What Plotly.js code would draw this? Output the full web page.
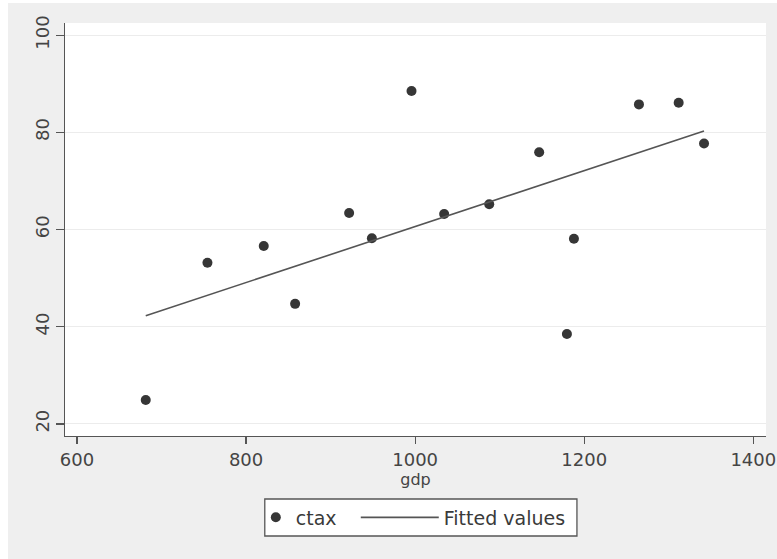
<!DOCTYPE html>
<html>
<head>
<meta charset="utf-8">
<script src="https://cdn.plot.ly/plotly-3.0.1.min.js"></script>
<style>
  html, body { margin: 0; padding: 0; background: #ffffff; }
  #chart { position: absolute; left: 8px; top: 3px; width: 769px; height: 556px; }
</style>
</head>
<body>
<div id="chart"></div>
<script>
// Data
const gdp  = [681.3, 754.3, 820.9, 858.0, 921.9, 948.8, 995.7, 1034.3, 1087.6, 1146.7, 1179.5, 1187.8, 1264.7, 1311.7, 1341.7];
const ctax = [24.9, 53.15, 56.6, 44.7, 63.4, 58.2, 88.5, 63.2, 65.2, 75.9, 38.5, 58.1, 85.75, 86.1, 77.7];
const fitX = [681.3, 1341.7];
const fitY = [42.26, 80.27];
const xTicks = [600, 800, 1000, 1200, 1400];
const yTicks = [20, 40, 60, 80, 100];
const seriesNames = ['ctax', 'Fitted values'];

const FONT = 'DejaVu Sans';
const traces = [
  {
    x: gdp, y: ctax, type: 'scatter', mode: 'markers', name: seriesNames[0],
    legend: 'legend',
    marker: { color: '#363636', size: 10, line: { width: 0 } }
  },
  {
    x: fitX, y: fitY, type: 'scatter', mode: 'lines', name: seriesNames[1],
    legend: 'legend2',
    line: { color: '#555555', width: 1.6 }
  }
];

const legendFont = { family: FONT, size: 19, color: '#3a3a3a' };
const layout = {
  width: 769, height: 556,
  paper_bgcolor: '#efefef',
  plot_bgcolor: '#ffffff',
  margin: { l: 57.3, r: 11, t: 20, b: 123, pad: 0 },
  showlegend: true,
  font: { family: FONT, color: '#3a3a3a' },
  xaxis: {
    range: [585.8, 1415],
    tickvals: xTicks,
    ticktext: xTicks.map(String),
    showgrid: false, zeroline: false,
    showline: true, linecolor: '#555555', linewidth: 1.3,
    ticks: 'outside', ticklen: 7, tickwidth: 1.3, tickcolor: '#555555',
    tickfont: { family: FONT, size: 18, color: '#444444' },
    title: { text: 'gdp', font: { family: FONT, size: 16, color: '#444444' }, standoff: 0 }
  },
  yaxis: {
    range: [17.5, 102.5],
    tickvals: yTicks,
    ticktext: yTicks.map(String),
    tickangle: -90,
    showgrid: true, gridcolor: '#ececec', gridwidth: 1.2,
    zeroline: false,
    showline: true, linecolor: '#555555', linewidth: 1.3,
    ticks: 'outside', ticklen: 8, tickwidth: 1.3, tickcolor: '#555555',
    tickfont: { family: FONT, size: 18, color: '#444444' }
  },
  // outer legend box
  shapes: [{
    type: 'rect', xref: 'paper', yref: 'paper',
    x0: 0.2850, x1: 0.7303, y0: -0.2421, y1: -0.1525,
    fillcolor: '#ffffff', line: { color: '#555555', width: 1.3 }, layer: 'above'
  }],
  legend: {
    orientation: 'h',
    x: 0.2722, xanchor: 'left',
    y: -0.1973, yanchor: 'middle',
    bgcolor: 'rgba(0,0,0,0)', borderwidth: 0,
    font: legendFont,
    itemwidth: 30
  },
  legend2: {
    orientation: 'h',
    x: 0.4148, xanchor: 'left',
    y: -0.1973, yanchor: 'middle',
    bgcolor: 'rgba(0,0,0,0)', borderwidth: 0,
    font: legendFont,
    itemwidth: 78
  }
};

Plotly.newPlot('chart', traces, layout, { displayModeBar: false, staticPlot: true });
</script>
</body>
</html>
